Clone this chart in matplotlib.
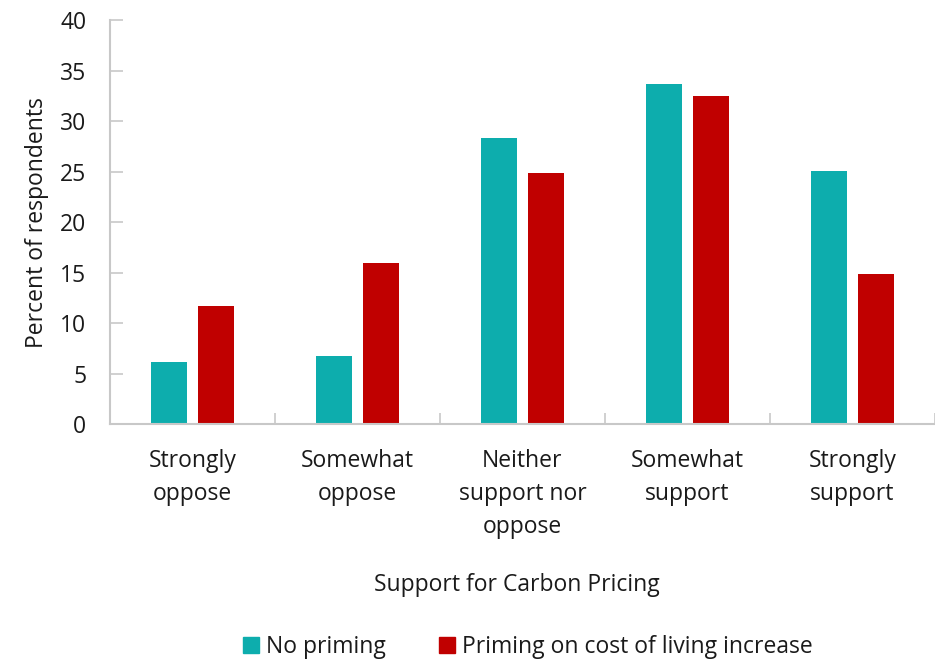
import matplotlib
matplotlib.use("Agg")
import matplotlib.pyplot as plt
import numpy as np
from matplotlib.patches import Patch

categories = ["Strongly\noppose", "Somewhat\noppose", "Neither\nsupport nor\noppose",
              "Somewhat\nsupport", "Strongly\nsupport"]
no_priming = [6.2, 6.8, 28.3, 33.7, 25.1]
priming = [11.7, 16.0, 24.9, 32.5, 14.9]
series_names = ["No priming", "Priming on cost of living increase"]
yticks = [0, 5, 10, 15, 20, 25, 30, 35, 40]

teal = "#0DADAD"
red = "#C00000"
grey = "#C8C8C8"
txt = "#1A1A1A"
fs = 16.5

plt.rcParams["font.family"] = ["Open Sans", "DejaVu Sans"]

fig = plt.figure(figsize=(9.35, 6.59), dpi=100)
ax = fig.add_axes([110/935, 1-424.3/659, 825/935, (424.3-20)/659])

x = np.arange(len(categories))
w = 0.223
off = 0.143
ax.bar(x - off, no_priming, width=w, color=teal, label=series_names[0])
ax.bar(x + off, priming, width=w, color=red, label=series_names[1])

ax.set_xlim(-0.5, len(categories) - 0.5)
ax.set_ylim(0, 40)
ax.set_yticks(yticks)
ax.set_yticklabels([str(t) for t in yticks], fontsize=fs, color=txt)

ax.set_xticks(x)
ax.set_xticklabels(categories, fontsize=fs, color=txt, linespacing=1.5, va="top")
ax.tick_params(axis="x", length=0, pad=18)
ax.set_xticks(np.arange(len(categories) + 1) - 0.5, minor=True)
ax.tick_params(axis="x", which="minor", direction="in", length=8, color=grey, width=1.2)
ax.tick_params(axis="y", direction="in", length=9, color=grey, width=1.2, pad=17)

for s in ["top", "right"]:
    ax.spines[s].set_visible(False)
for s in ["left", "bottom"]:
    ax.spines[s].set_color(grey)
    ax.spines[s].set_linewidth(1.5)

ax.set_ylabel("Percent of respondents", fontsize=fs, color=txt)
ax.yaxis.set_label_coords((49 - 110) / 825, 0.5)
fig.text(517/935, 1-585/659, "Support for Carbon Pricing", fontsize=fs, color=txt,
         ha="center", va="center")

handles = [Patch(color=teal), Patch(color=red)]
fig.legend(handles, series_names, loc="center", bbox_to_anchor=(528/935, 1-647/659),
           ncol=2, frameon=False, fontsize=fs, handlelength=0.7, handleheight=0.7,
           handletextpad=0.3, columnspacing=2.3, labelcolor=txt)

fig.savefig("out.png", dpi=100)
